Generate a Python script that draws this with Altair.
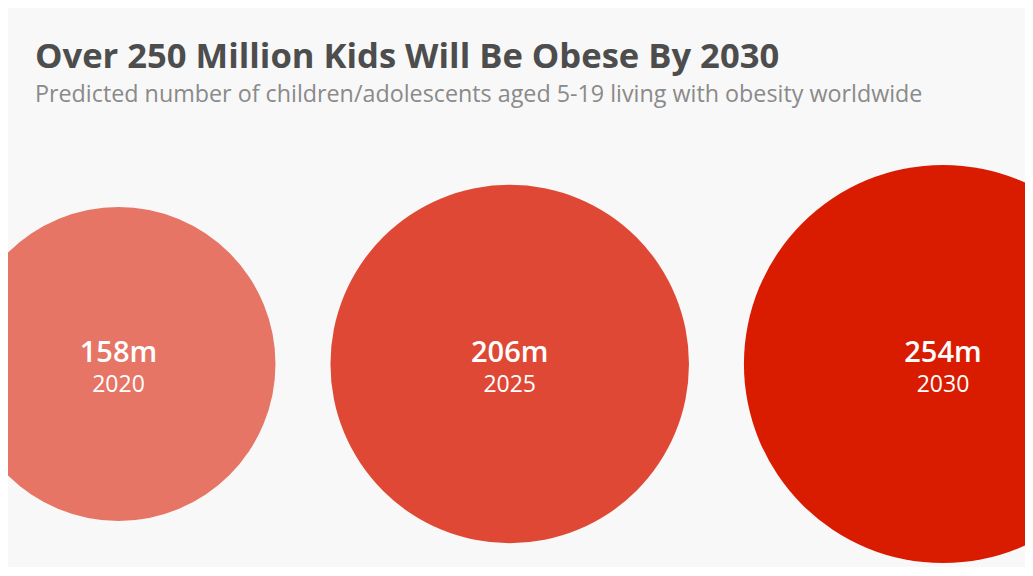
import altair as alt
import pandas as pd

years = [2020, 2025, 2030]
values = [158, 206, 254]
colors = ["#e67566", "#df4834", "#d91c00"]

df = pd.DataFrame({"year": years, "value": values, "color": colors})

K = 12.49   # px per sqrt(value) unit (radius scale)
GAP = 4.4   # gap between circles in sqrt units

base = alt.Chart(df).transform_calculate(
    r="sqrt(datum.value)"
).transform_window(
    cum="sum(r)", rn="row_number()", sort=[alt.SortField("year")]
).transform_calculate(
    cx=f"2*datum.cum - datum.r + (datum.rn-1)*{GAP}",
    label="datum.value + 'm'",
    ylab="'' + datum.year",
)

W = 990
H = 400
xmin = 5.885
x = alt.X("cx:Q", scale=alt.Scale(domain=[xmin, xmin + W / K], nice=False, zero=False), axis=None)

circles = base.mark_circle(opacity=1).encode(
    x=x,
    size=alt.Size("value:Q", scale=alt.Scale(domain=[0, 254], range=[0, 4 * K * K * 254]), legend=None),
    color=alt.Color("color:N", scale=None),
)

val_text = base.mark_text(dy=-11, fontSize=29, fontWeight=600, color="white", font="Open Sans", baseline="middle").encode(
    x=x, text="label:N"
)
year_text = base.mark_text(dy=21, fontSize=23, fontWeight="normal", color="white", font="Open Sans", baseline="middle").encode(
    x=x, text="ylab:N"
)

chart = alt.layer(circles, val_text, year_text).properties(
    width=W,
    height=H,
    autosize=alt.AutoSizeParams(type="none"),
    padding={"left": 27, "top": 156, "right": 0, "bottom": 3},
    background="#f8f8f8",
    title=alt.TitleParams(
        text="Over 250 Million Kids Will Be Obese By 2030",
        subtitle="Predicted number of children/adolescents aged 5-19 living with obesity worldwide",
        anchor="start",
        frame="group",
        font="Open Sans",
        fontSize=34.6,
        fontWeight="bold",
        color="#4d4d4d",
        subtitleFont="Open Sans",
        subtitleFontSize=23.3,
        subtitleColor="#8a8a8a",
        subtitlePadding=8,
        offset=57,
    ),
).configure_view(stroke=None)

chart.save("out.html", embed_options={"renderer": "svg", "actions": False})
